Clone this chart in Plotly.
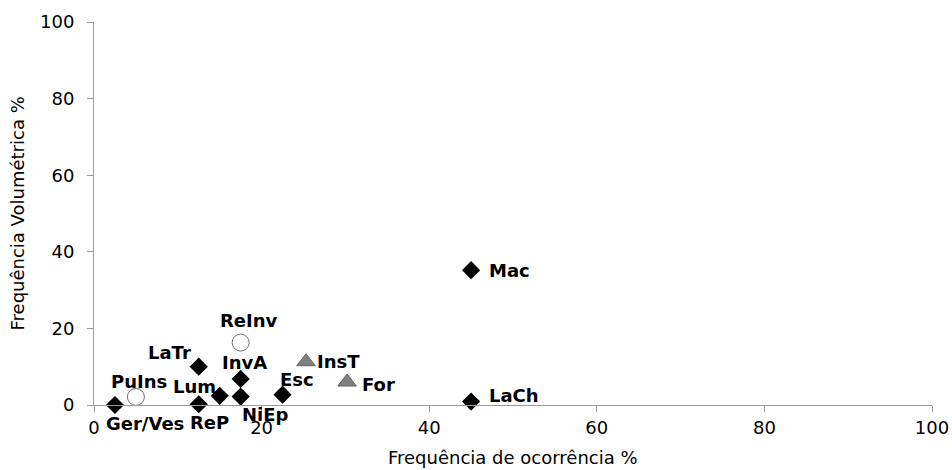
import plotly.graph_objects as go

# Data (frequency of occurrence %, volumetric frequency %)
diamond_names = ["Ger/Ves", "LaTr", "ReP", "Lum", "InvA", "NiEp", "Esc", "Mac", "LaCh"]
diamond_x = [2.5, 12.5, 12.5, 15.0, 17.5, 17.5, 22.5, 45.0, 45.0]
diamond_y = [0.0, 10.0, 0.2, 2.4, 6.8, 2.2, 2.7, 35.2, 0.9]

circle_names = ["PuIns", "ReInv"]
circle_x = [5.0, 17.5]
circle_y = [2.1, 16.3]

triangle_names = ["InsT", "For"]
triangle_x = [25.3, 30.2]
triangle_y = [11.3, 6.0]

x_ticks = [0, 20, 40, 60, 80, 100]
y_ticks = [0, 20, 40, 60, 80, 100]

FONT = "DejaVu Sans"
FS = 18
AXIS_COLOR = "#9a9a9a"

fig = go.Figure()
fig.add_trace(go.Scatter(x=diamond_x, y=diamond_y, mode="markers",
                         marker=dict(symbol="diamond", size=14, color="black"),
                         cliponaxis=False, showlegend=False, hoverinfo="text",
                         text=diamond_names))
fig.add_trace(go.Scatter(x=circle_x, y=circle_y, mode="markers",
                         marker=dict(symbol="circle", size=17, color="white",
                                     line=dict(color="#707070", width=1)),
                         cliponaxis=False, showlegend=False, hoverinfo="text",
                         text=circle_names))
fig.add_trace(go.Scatter(x=triangle_x, y=triangle_y, mode="markers",
                         marker=dict(symbol="triangle-up", size=16, color="#808080",
                                     line=dict(color="#606060", width=1)),
                         cliponaxis=False, showlegend=False, hoverinfo="text",
                         text=triangle_names))

# label placements: (xanchor, xshift, yshift)
label_pos = {
    "Ger/Ves": ("center", 30, -18),
    "ReP": ("center", 11, -18),
    "PuIns": ("center", 3, 15),
    "LaTr": ("center", -29, 14),
    "Lum": ("center", -25, 9),
    "InvA": ("center", 4, 16),
    "NiEp": ("center", 25, -18),
    "ReInv": ("center", 8, 22),
    "Esc": ("center", 14, 15),
    "InsT": ("left", 9, 0),
    "For": ("left", 13, -2),
    "Mac": ("left", 16, 0),
    "LaCh": ("left", 16, 6),
}

all_names = diamond_names + circle_names + triangle_names
all_x = diamond_x + circle_x + triangle_x
all_y = diamond_y + circle_y + triangle_y
for n, xv, yv in zip(all_names, all_x, all_y):
    anc, xs, ys = label_pos[n]
    fig.add_annotation(x=xv, y=yv, text="<b>%s</b>" % n, showarrow=False,
                       xanchor=anc, yanchor="middle", xshift=xs, yshift=ys,
                       font=dict(family=FONT, size=FS, color="black"))

fig.add_annotation(x=0.5, y=-0.138, xref="paper", yref="paper",
                   text="Frequência de ocorrência %", showarrow=False,
                   xanchor="center", yanchor="middle",
                   font=dict(family=FONT, size=FS, color="black"))
fig.add_annotation(x=-0.0907, y=0.5, xref="paper", yref="paper",
                   text="Frequência Volumétrica %", showarrow=False, textangle=-90,
                   xanchor="center", yanchor="middle",
                   font=dict(family=FONT, size=FS, color="black"))

axis_common = dict(range=[0, 100], showgrid=False, zeroline=False, automargin=False,
                   showline=True, linecolor=AXIS_COLOR, linewidth=1,
                   ticks="outside", ticklen=6, tickcolor=AXIS_COLOR, tickwidth=1,
                   tickfont=dict(family=FONT, size=FS, color="black"))
fig.update_xaxes(tickvals=x_ticks, ticktext=[str(v) for v in x_ticks], **axis_common)
fig.update_yaxes(tickvals=y_ticks, ticktext=[str(v) for v in y_ticks],
                 ticklabelstandoff=9, **axis_common)

fig.update_layout(width=952, height=470, plot_bgcolor="white", paper_bgcolor="white",
                  margin=dict(l=94, r=20, t=22, b=65, autoexpand=False),
                  font=dict(family=FONT))

fig.write_html("out.html", config={"displayModeBar": False, "responsive": False},
               post_script="document.body.style.margin='0';document.body.style.overflow='hidden';")
